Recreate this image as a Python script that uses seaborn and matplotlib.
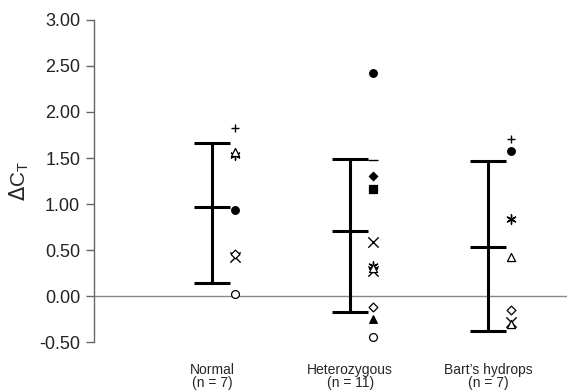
import numpy as np
import pandas as pd
import matplotlib
matplotlib.use("Agg")
import matplotlib.pyplot as plt
import seaborn as sns

sns.set_style("white")
plt.rcParams['font.family'] = ['Liberation Sans', 'DejaVu Sans']

# ---------------------------------------------
# data
# ---------------------------------------------
groups = ["Normal", "Heterozygous", "Bart\u2019s hydrops"]
group_labels = ["Normal\n(n = 7)", "Heterozygous\n(n = 11)", "Bart\u2019s hydrops\n(n = 7)"]

means = [0.97, 0.71, 0.53]
upper = [1.66, 1.49, 1.47]
lower = [0.14, -0.17, -0.38]

normal_vals = [1.83, 1.57, 1.53, 0.94, 0.46, 0.43, 0.02]
normal_marks = ["plus", "tri_open", "aster", "dot", "diamond_open", "cross", "circle_open"]

het_vals = [2.42, 1.48, 1.30, 1.16, 0.59, 0.33, 0.30, 0.27, -0.12, -0.25, -0.44]
het_marks = ["dot", "dash", "diamond", "square", "cross", "aster", "tri_open", "cross",
             "diamond_open", "tri", "circle_open"]

bart_vals = [1.71, 1.58, 0.84, 0.43, -0.15, -0.28, -0.30]
bart_marks = ["plus", "dot", "aster", "tri_open", "diamond_open", "cross", "tri_open"]

# marker name -> (matplotlib marker, filled?, size)
marker_styles = {
    "dot": ("o", True, 30),
    "circle_open": ("o", False, 32),
    "square": ("s", True, 26),
    "diamond": ("D", True, 18),
    "diamond_open": ("D", False, 20),
    "tri": ("^", True, 30),
    "tri_open": ("^", False, 34),
    "plus": ("+", None, 40),
    "cross": ("x", None, 55),
    "aster": ((6, 2, 0), None, 45),
    "dash": ("_", None, 45),
}

df = pd.DataFrame({
    "group": [groups[0]] * len(normal_vals) + [groups[1]] * len(het_vals) + [groups[2]] * len(bart_vals),
    "value": normal_vals + het_vals + bart_vals,
    "mark": normal_marks + het_marks + bart_marks,
})
df["x"] = df["group"].map({g: i for i, g in enumerate(groups)}) + 0.165

# ---------------------------------------------
# plot
# ---------------------------------------------
fig = plt.figure(figsize=(5.67, 3.91), dpi=100)
ax = fig.add_axes([0.166, 0.125, 0.834, 0.824])

ax.axhline(0, color="#888888", lw=1.0, zorder=1)

xpos = np.arange(len(groups))
ax.errorbar(xpos, means,
            yerr=[np.array(means) - np.array(lower), np.array(upper) - np.array(means)],
            fmt="none", ecolor="black", elinewidth=2.2, capsize=13, capthick=2.2, zorder=3)
ax.scatter(xpos, means, marker="_", s=26 ** 2, color="black", linewidths=2.2, zorder=3)

for name, sub in df.groupby("mark"):
    m, filled, size = marker_styles[name]
    if filled is None:
        sns.scatterplot(data=sub, x="x", y="value", marker=m, s=size, color="black",
                        linewidth=1.0, ax=ax, zorder=4)
    else:
        sns.scatterplot(data=sub, x="x", y="value", marker=m, s=size,
                        facecolor="black" if filled else "white",
                        edgecolor="black", linewidth=0.9, ax=ax, zorder=4)

ax.set_xlim(-0.855, 2.572)
ax.set_ylim(-0.5, 3.0)
ticks = np.arange(-0.5, 3.01, 0.5)
ax.set_yticks(ticks)
ax.set_yticklabels([f"{v:.2f}" for v in ticks], fontsize=13)
ax.set_xticks(xpos)
ax.set_xticklabels(group_labels, fontsize=10, linespacing=0.95)
ax.tick_params(axis="x", length=0, pad=15)
ax.tick_params(axis="y", left=True, length=6, width=1, color="#666666", direction="out",
               pad=4, labelcolor="#222222")
ax.set_xlabel("")
ax.set_ylabel(r"$\Delta$C$_\mathregular{T}$", fontsize=15, labelpad=6)

for side in ["top", "right", "bottom"]:
    ax.spines[side].set_visible(False)
ax.spines["left"].set_color("#666666")
ax.spines["left"].set_linewidth(1.0)

fig.savefig("out.png", dpi=100)
